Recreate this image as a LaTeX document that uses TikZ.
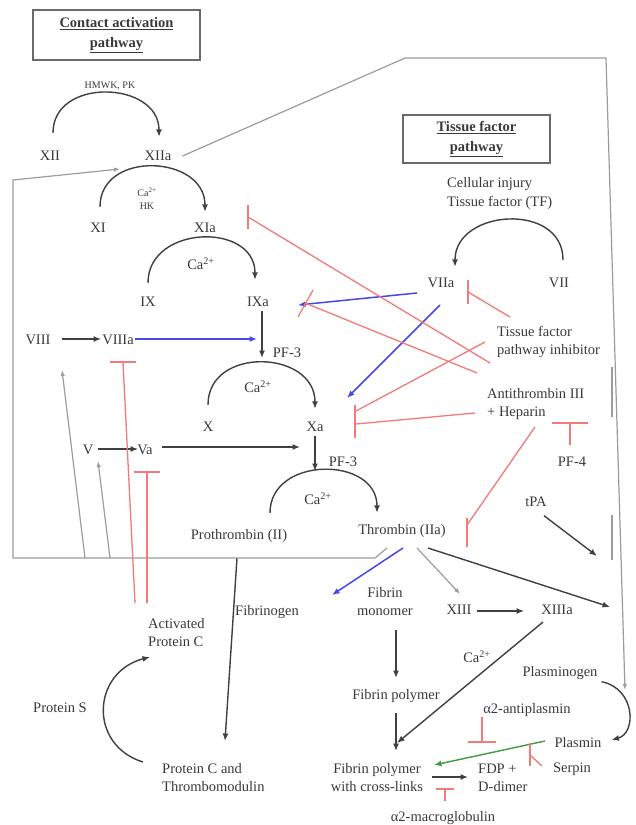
\documentclass[tikz,border=0pt]{standalone}
\usepackage{fontspec}
\setmainfont{Liberation Serif}
\usetikzlibrary{arrows.meta,calc}
\definecolor{txt}{HTML}{3A3A3A}
\definecolor{dk}{HTML}{404040}
\definecolor{gr}{HTML}{9C9C9C}
\definecolor{rd}{HTML}{F27A7A}
\definecolor{bl}{HTML}{4848E8}
\definecolor{gn}{HTML}{3F9B3F}
\definecolor{bx}{HTML}{6A6A6A}
\begin{document}
\begin{tikzpicture}[x=1pt,y=-1pt,
  lb/.style={text=txt,inner sep=1pt,font=\fontsize{14.5}{18}\selectfont,text height=10pt,text depth=3pt},
  lbm/.style={text=txt,inner sep=1pt,font=\fontsize{14.5}{18}\selectfont},
  sm/.style={text=txt,inner sep=1pt,font=\fontsize{10}{13}\selectfont,align=center},
  ttl/.style={draw=bx,line width=1.4pt,text=txt,align=center,inner sep=2pt,font=\bfseries\fontsize{14.5}{20}\selectfont},
  tip/.style={-{Latex[length=7.5pt,width=6pt]}},
  dka/.style={draw=dk,line width=1.4pt,tip},
  gra/.style={draw=gr,line width=1.2pt,-{Latex[length=6pt,width=4.5pt]}},
  grl/.style={draw=gr,line width=1.5pt},
  bla/.style={draw=bl,line width=1.5pt,tip},
  gna/.style={draw=gn,line width=1.4pt,tip},
  inh/.style={draw=rd,line width=1.3pt}
]
\fill[white] (0,0) rectangle (636,825);
\useasboundingbox (0,0) rectangle (636,825);

% ---------- titles ----------
\node[ttl,minimum width=167pt,minimum height=50pt] (tca) at (116.5,35) {\underline{Contact activation}\\\underline{pathway}};
\node[ttl,minimum width=147pt,minimum height=48pt] (ttf) at (476.5,139) {\underline{Tissue factor}\\\underline{pathway}};

% ---------- labels ----------
\node[sm] (hmwk) at (110,86) {HMWK, PK};
\node[lb] (XII) at (50,157) {XII};
\node[lb] (XIIa) at (158,157) {XIIa};
\node[sm] (cahk) at (147,198.5) {Ca\textsuperscript{2+}\\HK};
\node[lb] (XI) at (98,229) {XI};
\node[lb] (XIa) at (205,229) {XIa};
\node[lb] (ca1) at (201,266) {Ca\textsuperscript{2+}};
\node[lb] (IX) at (148,303) {IX};
\node[lb] (IXa) at (258,303) {IXa};
\node[lb] (VIII) at (38,341) {VIII};
\node[lb] (VIIIa) at (118,341) {VIIIa};
\node[lb] (pf3a) at (287,354) {PF-3};
\node[lb] (ca2) at (258,389) {Ca\textsuperscript{2+}};
\node[lb] (X) at (208,428) {X};
\node[lb] (Xa) at (315,428) {Xa};
\node[lb] (V) at (88,451) {V};
\node[lb] (Va) at (145,451) {Va};
\node[lb] (pf3b) at (343,463) {PF-3};
\node[lb] (ca3) at (318,501) {Ca\textsuperscript{2+}};
\node[lb] (proth) at (239,536) {Prothrombin (II)};
\node[lb] (thr) at (402,531) {Thrombin (IIa)};
\node[lbm,anchor=west,align=left,font=\fontsize{14.5}{19}\selectfont] (cell) at (446,193.5) {Cellular injury\\Tissue factor (TF)};
\node[lb] (VIIa) at (441,284) {VIIa};
\node[lb] (VII) at (559,284) {VII};
\node[lbm,anchor=west,align=left] (tfpi) at (496,341.5) {Tissue factor\\pathway inhibitor};
\node[lbm,anchor=west,align=left] (at3) at (486,404.5) {Antithrombin III\\+ Heparin};
\node[lb] (pf4) at (572,463) {PF-4};
\node[lb] (tpa) at (536,503) {tPA};
\node[lb,anchor=west] (fbg) at (234,612) {Fibrinogen};
\node[lbm,align=center] (fmono) at (385,601.5) {Fibrin\\monomer};
\node[lb] (XIII) at (459,611) {XIII};
\node[lb] (XIIIa) at (557,611) {XIIIa};
\node[lbm,anchor=west,align=left] (apc) at (147,632.5) {Activated\\Protein C};
\node[lb] (ca4) at (477,659) {Ca\textsuperscript{2+}};
\node[lb] (plg) at (560,673) {Plasminogen};
\node[lb] (fpol) at (396,696) {Fibrin polymer};
\node[lb] (a2ap) at (527,710) {α2-antiplasmin};
\node[lb] (protS) at (60,709) {Protein S};
\node[lb] (plm) at (578,744) {Plasmin};
\node[lbm,align=center] (fxl) at (377,778) {Fibrin polymer\\with cross-links};
\node[lbm,anchor=west,align=left] (fdp) at (477,778) {FDP +\\D-dimer};
\node[lb] (serp) at (572,769) {Serpin};
\node[lbm,anchor=west,align=left] (pcth) at (161,778) {Protein C and\\Thrombomodulin};
\node[lb] (a2mg) at (443,818) {α2-macroglobulin};

% ---------- conversion arcs ----------
\draw[dka] ([xshift=3pt,yshift=16.5pt]XII.north) .. controls +(0,-56) and +(0,-56) .. ([xshift=1pt,yshift=12.5pt]XIIa.north);
\draw[dka] ([xshift=2pt,yshift=14.5pt]XI.north) .. controls +(0,-57) and +(0,-57) .. ([yshift=9.5pt]XIa.north);
\draw[dka] ([yshift=12.5pt]IX.north) .. controls +(0,-58) and +(0,-58) .. ([xshift=-3pt,yshift=15.5pt]IXa.north);
\draw[dka] ([yshift=15.5pt]X.north) .. controls +(0,-59) and +(0,-59) .. ([yshift=11.5pt]Xa.north);
\draw[dka] ([xshift=31pt,yshift=15.5pt]proth.north) .. controls +(0,-57) and +(0,-57) .. ([xshift=-25pt,yshift=10.5pt]thr.north);
\draw[dka] ([xshift=4pt,yshift=16.5pt]VII.north) .. controls +(0,-58) and +(0,-58) .. ([xshift=14pt,yshift=9.5pt]VIIa.north);
\draw[dka] ([xshift=3pt,yshift=-1pt]plg.south east) .. controls +(34,7) and +(25,-7) .. ([xshift=9pt,yshift=4pt]plm.east);
\coordinate (pcs) at (143,762);
\coordinate (apce) at (150,657);
\draw[dka] (pcs) .. controls +(-55,-17) and +(-58,15) .. (apce);

% ---------- dark arrows ----------
\coordinate (vx) at (300,447);
\coordinate (ixin) at (262,358);
\coordinate (xain) at (315,471);
\coordinate (thrA) at (428,548);
\coordinate (thrB) at (610,607);
\coordinate (tpaE) at (597,556);
\coordinate (fgS) at (237,558);
\coordinate (fgE) at (225,741);
\coordinate (fmS) at (396,630);
\coordinate (fmE) at (396,678);
\coordinate (fpS) at (396,713);
\coordinate (fpE) at (396,751);
\coordinate (x13S) at (543,622);
\coordinate (x13E) at (397,743);
\coordinate (fxS) at (432,777);
\coordinate (fxE) at (468,777);
\draw[dka] ([xshift=10pt,yshift=2pt]VIII.east) -- ([yshift=2pt]VIIIa.west);
\draw[dka] ([xshift=4pt,yshift=2pt]V.east) -- ([xshift=2pt,yshift=2pt]Va.west);
\draw[dka] ([xshift=8pt,yshift=4pt]Va.east) -- (vx);
\draw[dka] (IXa.south -| ixin) -- (ixin);
\draw[dka] (Xa.south) -- (xain);
\draw[dka] (thrA) -- (thrB);
\draw[dka] ([xshift=8pt,yshift=-5pt]tpa.south) -- (tpaE);
\draw[dka] (fgS) -- (fgE);
\draw[dka] ([xshift=4pt]XIII.east) -- ([xshift=-16pt]XIIIa.west);
\draw[dka] (fmS) -- (fmE);
\draw[dka] (fpS) -- (fpE);
\draw[dka] (x13S) -- (x13E);
\draw[dka] (fxS) -- (fxE);

% ---------- grey feedback lines ----------
\coordinate (g1) at (405,58);
\coordinate (g2) at (606,58);
\coordinate (g3) at (625,690);
\draw[gra] ([xshift=10pt,yshift=1pt]XIIa.east) -- (g1) -- (g2) -- (g3);
\coordinate (f0) at (387,548);
\coordinate (f1) at (375,558);
\coordinate (f2) at (13,558);
\coordinate (f3) at (13,180);
\coordinate (f4) at (120,169);
\draw[gra] (f0) -- (f1) -- (f2) -- (f3) -- (f4);
\coordinate (f5) at (85,558);
\coordinate (t8) at (62,370);
\coordinate (f6) at (110,558);
\coordinate (t5) at (98,461);
\draw[gra] (f5) -- (t8);
\draw[gra] (f6) -- (t5);
\coordinate (thrC) at (417,548);
\coordinate (x13in) at (460,594);
\draw[gra] (thrC) -- (x13in);
\draw[grl] (612,367) -- (612,417);
\draw[grl] (612,515) -- (612,560);

% ---------- blue activations ----------
\coordinate (b1e) at (257,339);
\coordinate (b2s) at (417,293);
\coordinate (b2e) at (298,305);
\coordinate (b3s) at (440,305);
\coordinate (b3e) at (347,398);
\coordinate (b4s) at (403,548);
\coordinate (b4e) at (332,595);
\draw[bla] ([yshift=2pt]VIIIa.east) -- (b1e);
\draw[bla] (b2s) -- (b2e);
\draw[bla] (b3s) -- (b3e);
\draw[bla] (b4s) -- (b4e);

% ---------- green ----------
\coordinate (gS) at (545,741);
\coordinate (gE) at (434,765);
\draw[gna] (gS) -- (gE);

% ---------- red inhibitions ----------
\coordinate (r1s) at (490,363);  \coordinate (r1e) at (248,217);
\coordinate (r2s) at (477,373);  \coordinate (r2e) at (305,303);
\coordinate (r3s) at (485,342);  \coordinate (r3e) at (356,411);
\coordinate (r4s) at (475,413);  \coordinate (r4e) at (356,424);
\coordinate (r5s) at (535,427);  \coordinate (r5e) at (467,525);
\coordinate (r6s) at (510,317);  \coordinate (r6e) at (468,292);
\coordinate (r7s) at (570,445);  \coordinate (r7e) at (570,423);
\coordinate (r8s) at (135,603);  \coordinate (r8e) at (123,362);
\coordinate (r9s) at (147,603);  \coordinate (r9e) at (147,472);
\coordinate (r10s) at (482,717); \coordinate (r10e) at (482,742);
\coordinate (r11s) at (445,801); \coordinate (r11e) at (445,789);
\coordinate (r12s) at (542,766); \coordinate (r12e) at (530,755);
\draw[inh] (r1s) -- (r1e);  \draw[inh] ([yshift=12pt]r1e) -- ([yshift=-12pt]r1e);
\draw[inh] (r2s) -- (r2e);  \draw[inh] ($(r2e)+(-7,14)$) -- ($(r2e)+(8,-13)$);
\draw[inh] (r3s) -- (r3e);
\draw[inh] (r4s) -- (r4e);  \draw[inh] (355,405) -- (355,438);
\draw[inh] (r5s) -- (r5e);  \draw[inh] (467,518) -- (467,547);
\draw[inh] (r6s) -- (r6e);  \draw[inh] ([yshift=12pt]r6e) -- ([yshift=-12pt]r6e);
\draw[inh] (r7s) -- (r7e);  \draw[inh] ([xshift=-18pt]r7e) -- ([xshift=18pt]r7e);
\draw[inh] (r8s) -- (r8e);  \draw[inh] ([xshift=-13pt]r8e) -- ([xshift=13pt]r8e);
\draw[inh] (r9s) -- (r9e);  \draw[inh] ([xshift=-13pt]r9e) -- ([xshift=13pt]r9e);
\draw[inh] (r10s) -- (r10e); \draw[inh] ([xshift=-14pt]r10e) -- ([xshift=14pt]r10e);
\draw[inh] (r11s) -- (r11e); \draw[inh] ([xshift=-9pt]r11e) -- ([xshift=9pt]r11e);
\draw[inh] (r12s) -- (r12e); \draw[inh] (530,743) -- (530,766);
\end{tikzpicture}
\end{document}
